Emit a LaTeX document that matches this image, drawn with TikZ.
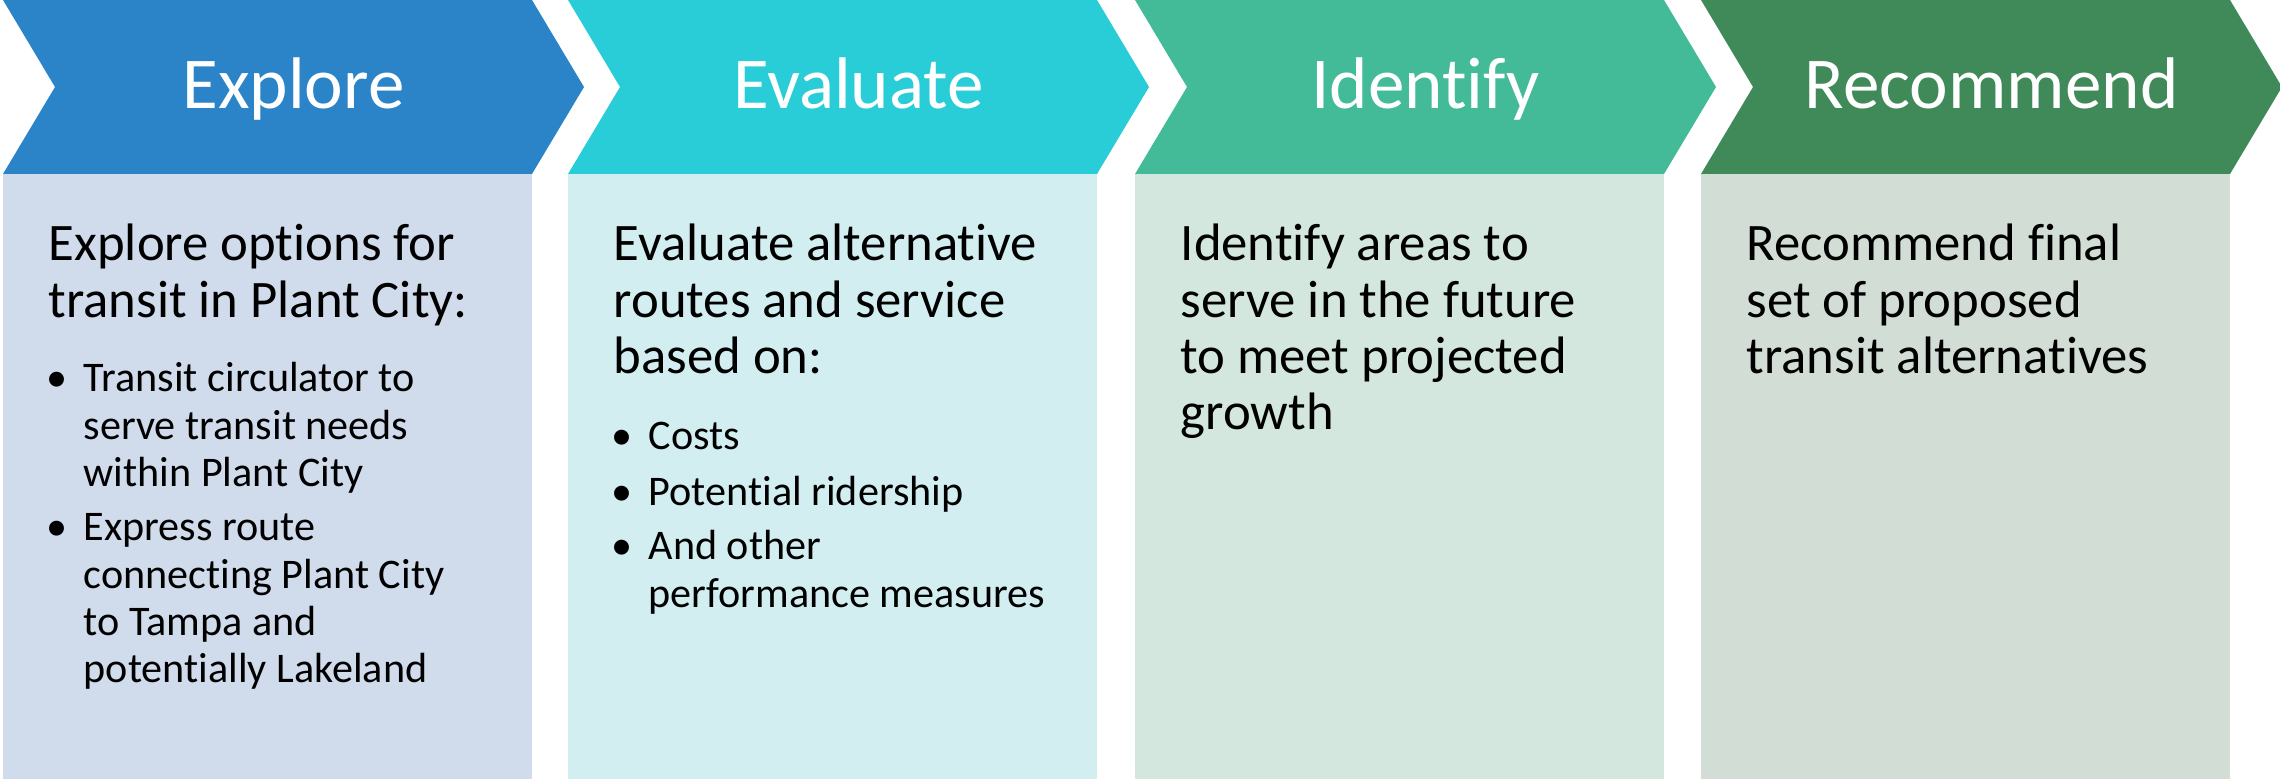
\documentclass[tikz,border=0pt]{standalone}
\usepackage{fontspec}
\setmainfont{Carlito}[Ligatures=NoCommon]
\definecolor{exploreblue}{HTML}{2A84C7}
\definecolor{evaluatecyan}{HTML}{29CDD7}
\definecolor{identifygreen}{HTML}{43BB98}
\definecolor{recommendgreen}{HTML}{3F8A58}
\definecolor{explorepale}{HTML}{D0DCEC}
\definecolor{evaluatepale}{HTML}{D2EEF0}
\definecolor{identifypale}{HTML}{D3E7DF}
\definecolor{recommendpale}{HTML}{D2DDD6}
\def\phasechevron[#1](#2){\fill[#1] (#2) -- ++(5.29,0) -- ++(0.52,-0.87) -- ++(-0.52,-0.87) -- ++(-5.29,0) -- ++(0.52,0.87) -- cycle;}
\def\bulletitem#1(#2)#3{\node[itemtext] (#1) at (#2) {\parbox[t]{4.8cm}{\raggedright #3}};
	\node[itemtext, anchor=base] (#1dot) at ([xshift=-0.26cm]#1.base west) {\textbullet};}
\tikzset{
	phasetitle/.style={anchor=base, inner sep=0, text=white, font=\fontsize{20.8}{25}\selectfont},
	maintext/.style={anchor=base west, inner sep=0, font=\fontsize{15}{16}\selectfont},
	itemtext/.style={anchor=base west, inner sep=0, font=\fontsize{12}{13.4}\selectfont}
}

\begin{document}
\begin{tikzpicture}
			%%%%% START %%%%%
			\useasboundingbox (0, 0) rectangle (22.8, 7.79);
			
			% chevrons
			\phasechevron[exploreblue](0.03, 7.79);
			\phasechevron[evaluatecyan](5.68, 7.79);
			\phasechevron[identifygreen](11.35, 7.79);
			\phasechevron[recommendgreen](17.01, 7.79);
			
			% boxes
			\fill[explorepale] (0.03, 0) rectangle (5.32, 6.05);
			\fill[evaluatepale] (5.68, 0) rectangle (10.97, 6.05);
			\fill[identifypale] (11.35, 0) rectangle (16.64, 6.05);
			\fill[recommendpale] (17.01, 0) rectangle (22.30, 6.05);
			
			% titles
			\node[phasetitle] (explore) at (2.935, 6.70) {Explore};
			\node[phasetitle] (evaluate) at (8.585, 6.70) {Evaluate};
			\node[phasetitle] (identify) at (14.255, 6.70) {Identify};
			\node[phasetitle] (recommend) at (19.915, 6.70) {Recommend};
			
			% texts
			\node[maintext] (exploretext) at (0.48, 5.18) {\parbox[t]{5cm}{Explore options for\\transit in Plant City:}};
			\bulletitem{circulator}(0.83, 3.87){Transit circulator to\\serve transit needs\\within Plant City}
			\bulletitem{express}(0.83, 2.38){Express route\\connecting Plant City\\to Tampa and\\potentially Lakeland}
			
			\node[maintext] (evaluatetext) at (6.13, 5.18) {\parbox[t]{5cm}{Evaluate alternative\\routes and service\\based on:}};
			\bulletitem{costs}(6.48, 3.29){Costs}
			\bulletitem{ridership}(6.48, 2.73){Potential ridership}
			\bulletitem{measures}(6.48, 2.19){And other\\performance measures}
			
			\node[maintext] (identifytext) at (11.80, 5.18) {\parbox[t]{5cm}{Identify areas to\\serve in the future\\to meet projected\\growth}};
			
			\node[maintext] (recommendtext) at (17.46, 5.18) {\parbox[t]{5cm}{Recommend final\\set of proposed\\transit alternatives}};
			
			%%%%% END %%%%%
\end{tikzpicture}
\end{document}
